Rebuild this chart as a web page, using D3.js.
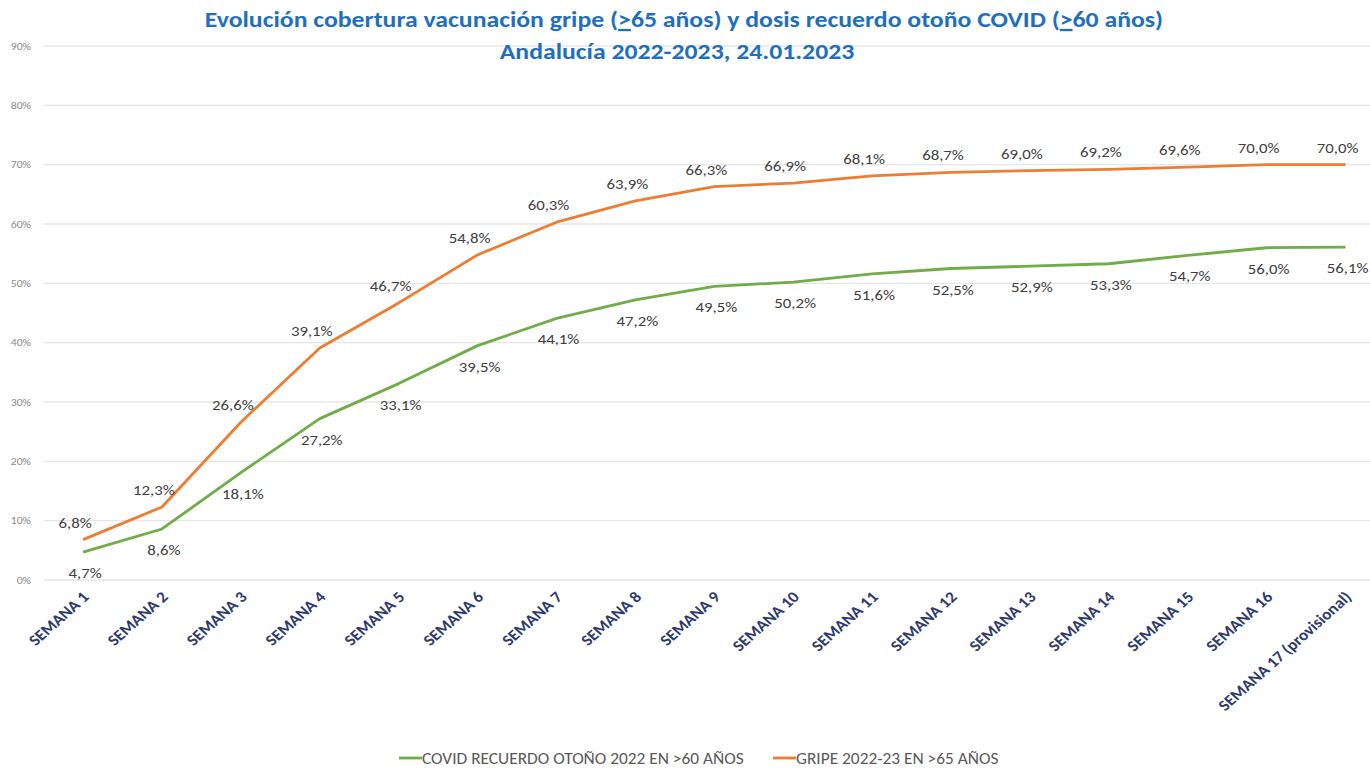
<!DOCTYPE html>
<html><head><meta charset="utf-8">
<script src="https://cdn.jsdelivr.net/npm/d3@7/dist/d3.min.js"></script>
<style>body{margin:0;background:#fff;}svg{display:block;}</style>
</head><body><svg id="c" width="1370" height="773"></svg>
<script>
const categories = ["SEMANA 1","SEMANA 2","SEMANA 3","SEMANA 4","SEMANA 5","SEMANA 6","SEMANA 7","SEMANA 8","SEMANA 9","SEMANA 10","SEMANA 11","SEMANA 12","SEMANA 13","SEMANA 14","SEMANA 15","SEMANA 16","SEMANA 17 (provisional)"];
const covidValues = [4.7,8.6,18.1,27.2,33.1,39.5,44.1,47.2,49.5,50.2,51.6,52.5,52.9,53.3,54.7,56.0,56.1];
const gripeValues = [6.8,12.3,26.6,39.1,46.7,54.8,60.3,63.9,66.3,66.9,68.1,68.7,69.0,69.2,69.6,70.0,70.0];
const yTicks = [0,10,20,30,40,50,60,70,80,90];
const seriesNames = ["COVID RECUERDO OTOÑO 2022 EN >60 AÑOS","GRIPE 2022-23 EN >65 AÑOS"];

const svg = d3.select("#c");
const font = "Carlito, Calibri, 'Open Sans', sans-serif";
const SX = 1.12; // horizontal stretch of the source image
const x = d3.scaleBand().domain(categories).range([43.6, 1385]);
const y = d3.scaleLinear().domain([0, 90]).range([580, 46]);
const cx = d => x(d) + x.bandwidth()/2;

// gridlines
svg.append("g").selectAll("line").data(yTicks).join("line")
  .attr("x1", 44).attr("x2", 1370)
  .attr("y1", d => y(d)).attr("y2", d => y(d))
  .attr("stroke", "#e6e6e6").attr("stroke-width", 1.3);

// y labels
svg.append("g").selectAll("text").data(yTicks).join("text")
  .attr("transform", d => `translate(31,${y(d) + 3.5}) scale(${SX},1)`)
  .attr("text-anchor", "end")
  .attr("font-family", font).attr("font-size", 10.5).attr("fill", "#8a8a8a")
  .text(d => d + "%");

// x labels
svg.append("g").selectAll("text").data(categories).join("text")
  .attr("transform", d => `translate(${cx(d) + 7},${598}) scale(${SX},1) rotate(-45)`)
  .attr("text-anchor", "end")
  .attr("font-family", font).attr("font-size", 15.5).attr("font-weight", "bold")
  .attr("fill", "#2d3b6e")
  .text(d => d);

const line = d3.line().x((v, i) => cx(categories[i])).y(v => y(v));
const series = [
  {name: seriesNames[0], values: covidValues, color: "#70ad47", dy: 26, dx: 2},
  {name: seriesNames[1], values: gripeValues, color: "#ed7d31", dy: -12, dx: -8}
];
series.forEach(s => {
  svg.append("path").datum(s.values).attr("d", line)
    .attr("fill", "none").attr("stroke", s.color).attr("stroke-width", 2.8)
    .attr("stroke-linejoin", "round");
});
series.forEach(s => {
  svg.append("g").selectAll("text").data(s.values).join("text")
    .attr("transform", (v, i) => `translate(${cx(categories[i]) + s.dx},${y(v) + s.dy}) scale(${SX},1)`)
    .attr("text-anchor", "middle")
    .attr("font-family", font).attr("font-size", 15).attr("fill", "#404040")
    .text(v => v.toFixed(1).replace(".", ",") + "%");
});

// title
const t1 = svg.append("text").attr("text-anchor", "middle")
  .attr("transform", `translate(684,27) scale(${SX},1)`)
  .attr("font-family", font).attr("font-weight", "bold").attr("font-size", 23)
  .attr("fill", "#1f6fbf");
t1.append("tspan").text("Evolución cobertura vacunación gripe (");
t1.append("tspan").attr("text-decoration", "underline").text(">");
t1.append("tspan").text("65 años) y dosis recuerdo otoño COVID (");
t1.append("tspan").attr("text-decoration", "underline").text(">");
t1.append("tspan").text("60 años)");
svg.append("text").attr("text-anchor", "middle")
  .attr("transform", `translate(677,59) scale(${SX},1)`)
  .attr("font-family", font).attr("font-weight", "bold").attr("font-size", 23)
  .attr("fill", "#1f6fbf")
  .text("Andalucía 2022-2023, 24.01.2023");

// legend
const leg = svg.append("g");
const legItems = [
  {name: seriesNames[0], color: series[0].color, x: 399},
  {name: seriesNames[1], color: series[1].color, x: 773}
];
legItems.forEach(it => {
  leg.append("line").attr("x1", it.x).attr("x2", it.x + 23).attr("y1", 758).attr("y2", 758)
    .attr("stroke", it.color).attr("stroke-width", 2.8);
  leg.append("text")
    .attr("transform", `translate(${it.x + 23},763.5) scale(${SX},1)`)
    .attr("font-family", font).attr("font-size", 15.5).attr("fill", "#595959")
    .text(it.name);
});
</script></body></html>
